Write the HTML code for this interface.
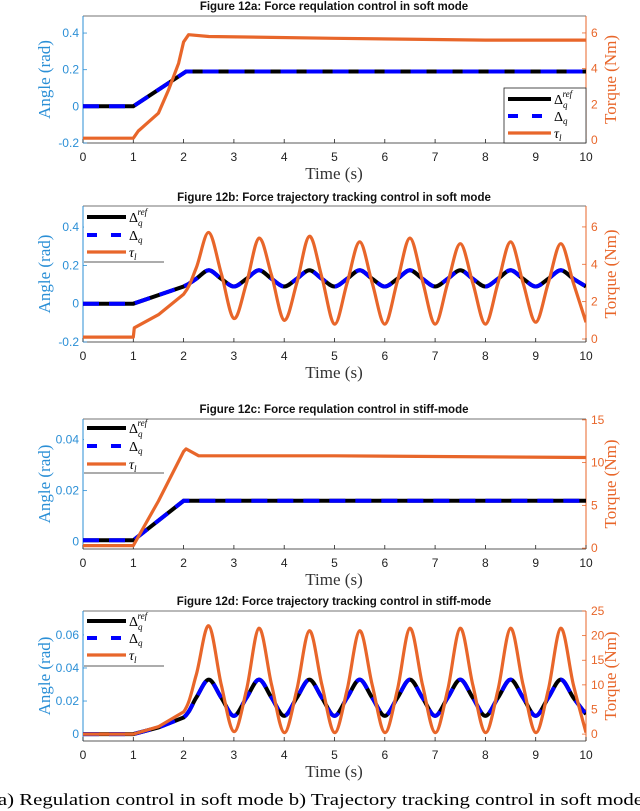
<!DOCTYPE html>
<html><head><meta charset="utf-8"><style>
html,body{margin:0;padding:0;background:#fff;}
svg{display:block;}
.tl{font-family:"Liberation Sans",sans-serif;font-size:12px;}
.ttl{font-family:"Liberation Sans",sans-serif;font-size:11.5px;font-weight:bold;fill:#111;}
.al{font-family:"Liberation Serif",serif;font-size:17px;}
.lg{font-family:"Liberation Serif",serif;font-size:14px;fill:#000;}
</style></head><body>
<svg id="fig" width="640" height="811" viewBox="0 0 640 811" xmlns="http://www.w3.org/2000/svg">
<text x="-9" y="805" class="al" textLength="652" lengthAdjust="spacingAndGlyphs">(a)  Regulation control in soft mode b) Trajectory tracking control in soft mode</text>
</svg>
<script>
// ---- Panel a data ----
const aTime = [0, 1, 2.05, 10];
const aRef = [0, 0, 0.19, 0.19];
const aTqTime = [0, 1, 1.1, 1.3, 1.5, 1.7, 1.9, 2.0, 2.1, 2.5, 5, 8, 10];
const aTorque = [0.1, 0.1, 0.5, 1.0, 1.5, 2.8, 4.3, 5.5, 5.9, 5.8, 5.7, 5.6, 5.6];
// ---- Panel b data ----
const bTime = [0,1,1.5,2,2.25,2.5,2.75,3,3.25,3.5,3.75,4,4.25,4.5,4.75,5,5.25,5.5,5.75,6,6.25,6.5,6.75,7,7.25,7.5,7.75,8,8.25,8.5,8.75,9,9.25,9.5,9.75,10];
const bRef = [0,0,0.045,0.09,0.13,0.175,0.13,0.09,0.13,0.175,0.13,0.09,0.13,0.175,0.13,0.09,0.13,0.175,0.13,0.09,0.13,0.175,0.13,0.09,0.13,0.175,0.13,0.09,0.13,0.175,0.13,0.09,0.13,0.175,0.13,0.09];
const bTqTime = [0,1,1.02,1.5,2,2.25,2.5,2.75,3,3.25,3.5,3.75,4,4.25,4.5,4.75,5,5.25,5.5,5.75,6,6.25,6.5,6.75,7,7.25,7.5,7.75,8,8.25,8.5,8.75,9,9.25,9.5,9.75,10];
const bTorque = [0.1,0.1,0.6,1.3,2.4,3.8,5.7,3.5,1.1,3.0,5.4,3.4,1.0,3.0,5.5,3.3,0.8,3.0,5.2,3.0,0.8,3.1,5.4,3.1,0.8,3.0,5.1,3.0,0.8,3.0,5.2,3.0,0.9,3.0,5.1,3.0,0.9];
// ---- Panel c data ----
const cTime = [0, 1, 2, 10];
const cRef = [0.0005, 0.0005, 0.016, 0.016];
const cTqTime = [0, 1, 1.5, 2, 2.05, 2.3, 5, 10];
const cTorque = [0.3, 0.3, 5.5, 11.3, 11.6, 10.8, 10.8, 10.6];
// ---- Panel d data ----
const dTime = bTime;
const dRef = [0,0,0.004,0.01,0.022,0.033,0.022,0.011,0.022,0.033,0.022,0.011,0.022,0.033,0.022,0.011,0.022,0.033,0.022,0.011,0.022,0.033,0.022,0.011,0.022,0.033,0.022,0.011,0.022,0.033,0.022,0.011,0.022,0.033,0.022,0.012];
const dTorque = [0,0,1.5,4.5,12,22,10,0.5,9,21.5,10,0.3,9,21,10,0.3,9,21,10,0.3,9,21.5,10,0.3,9,21.5,10,0.3,9,21.5,10,0.3,9,21.5,10,0.3];
// tick labels
const xTicks = [0,1,2,3,4,5,6,7,8,9,10];
const aAngTicks = ["-0.2","0","0.2","0.4"], aTqTicks = ["0","2","4","6"];
const bAngTicks = ["-0.2","0","0.2","0.4"], bTqTicks = ["0","2","4","6"];
const cAngTicks = ["0","0.02","0.04"], cTqTicks = ["0","5","10","15"];
const dAngTicks = ["0","0.02","0.04","0.06"], dTqTicks = ["0","5","10","15","20","25"];

const NS = "http://www.w3.org/2000/svg";
const svg = document.getElementById("fig");
const BLUE_AX = "#2b8fd6", ORANGE = "#e8662a";
function mk(tag, attrs, parent){ const e=document.createElementNS(NS,tag); for(const k in attrs) e.setAttribute(k,attrs[k]); (parent||svg).appendChild(e); return e; }

const X0 = 83, X1 = 586;
function xs(t){ return X0 + (t/10)*(X1-X0); }
function lin(d0,d1,p0,p1){ return v => p0 + (v-d0)/(d1-d0)*(p1-p0); }

function pathFrom(ts, vs, ys, smooth){
  const pts = ts.map((t,i)=>[xs(t), ys(vs[i])]);
  let d = "M"+pts[0][0].toFixed(1)+","+pts[0][1].toFixed(1);
  for(let i=0;i<pts.length-1;i++){
    const p1=pts[i], p2=pts[i+1];
    if(!smooth || ts[i] < 2){ d+="L"+p2[0].toFixed(1)+","+p2[1].toFixed(1); continue; }
    const p0=pts[Math.max(0,i-1)], p3=pts[Math.min(pts.length-1,i+2)];
    const c1=[p1[0]+(p2[0]-p0[0])/6, p1[1]+(p2[1]-p0[1])/6];
    const c2=[p2[0]-(p3[0]-p1[0])/6, p2[1]-(p3[1]-p1[1])/6];
    d+="C"+c1[0].toFixed(1)+","+c1[1].toFixed(1)+" "+c2[0].toFixed(1)+","+c2[1].toFixed(1)+" "+p2[0].toFixed(1)+","+p2[1].toFixed(1);
  }
  return d;
}

function panel(p){
  const g = mk("g",{});
  
  
  const ya = lin(p.angLo,p.angHi,p.bot,p.top);
  const yt = lin(p.tqLo,p.tqHi,p.bot,p.top);
  const title = mk("text",{x:334,y:p.titleY,"text-anchor":"middle",class:"ttl"},g);
  title.textContent = p.title;
  
  
  mk("line",{x1:X0,y1:p.top,x2:X1,y2:p.top,stroke:"#444","stroke-width":0.8},g);
  mk("line",{x1:X0,y1:p.bot,x2:X1,y2:p.bot,stroke:"#222","stroke-width":0.8},g);
  mk("line",{x1:X0,y1:p.top,x2:X0,y2:p.bot,stroke:BLUE_AX,"stroke-width":1},g);
  mk("line",{x1:X1,y1:p.top,x2:X1,y2:p.bot,stroke:ORANGE,"stroke-width":1},g);
  xTicks.forEach(t=>{
    mk("line",{x1:xs(t),y1:p.bot,x2:xs(t),y2:p.bot-4,stroke:"#222","stroke-width":0.8},g);
    const tx = mk("text",{x:xs(t),y:p.bot+18,"text-anchor":"middle",class:"tl",fill:"#222"},g);
    tx.textContent = t;
    
    
  });
  p.angTicks.forEach(s=>{
    const y = ya(parseFloat(s));
    mk("line",{x1:X0,y1:y,x2:X0+4,y2:y,stroke:BLUE_AX,"stroke-width":0.8},g);
    const tx = mk("text",{x:X0-4,y:y+4,"text-anchor":"end",class:"tl",fill:BLUE_AX},g);
    tx.textContent = s;
    
    
  });
  p.tqTicks.forEach(s=>{
    const y = yt(parseFloat(s));
    mk("line",{x1:X1,y1:y,x2:X1-4,y2:y,stroke:ORANGE,"stroke-width":0.8},g);
    const tx = mk("text",{x:X1+5,y:y+4,"text-anchor":"start",class:"tl",fill:ORANGE},g);
    tx.textContent = s;
    
    
  });
  const mid = (p.top+p.bot)/2;
  const yl = mk("text",{x:50,y:mid,"text-anchor":"middle",class:"al",fill:BLUE_AX,transform:"rotate(-90 50 "+mid+")"},g);
  yl.textContent = "Angle (rad)";
  
  
  const yr = mk("text",{x:616,y:mid,"text-anchor":"middle",class:"al",fill:ORANGE,transform:"rotate(-90 616 "+mid+")"},g);
  yr.textContent = "Torque (Nm)";
  
  
  const xl = mk("text",{x:334,y:p.bot+36,"text-anchor":"middle",class:"al",fill:"#333"},g);
  xl.textContent = "Time (s)";
  
  
  const cp = "clip-"+p.name;
  const cl = mk("clipPath",{id:cp},g); mk("rect",{x:X0,y:p.top,width:X1-X0,height:p.bot-p.top},cl);
  const dref = pathFrom(p.t, p.ref, ya, p.smooth);
  const l1 = mk("path",{d:dref,fill:"none",stroke:"#000","stroke-width":4,"clip-path":"url(#"+cp+")"},g);
  
  
  const l2 = mk("path",{d:dref,fill:"none",stroke:"#0000ff","stroke-width":4,"stroke-dasharray":"16 10","clip-path":"url(#"+cp+")"},g);
  
  
  const l3 = mk("path",{d:pathFrom(p.tqT, p.tq, yt, p.smooth),fill:"none",stroke:ORANGE,"stroke-width":3.2,"stroke-linejoin":"round","clip-path":"url(#"+cp+")"},g);
  
  
  const L = p.leg;
  const lg = mk("g",{},g);
  
  
  if(L.box) mk("rect",{x:L.x0,y:L.y0,width:L.x1-L.x0,height:L.y1-L.y0,fill:"#fff",stroke:"#222","stroke-width":0.8},lg);
  else { mk("rect",{x:L.x0,y:L.y0,width:L.x1-L.x0,height:L.y1-L.y0,fill:"#fff"},lg); mk("line",{x1:L.x0,y1:L.y1,x2:L.x1,y2:L.y1,stroke:"#222","stroke-width":0.8},lg); }
  const items = [["#000","",4,"ref"],["#0000ff","10 14",4,"q"],[ORANGE,"",3.2,"tau"]];
  items.forEach((it,i)=>{
    const y = L.ys[i];
    const ln = mk("line",{x1:L.sx0,y1:y,x2:L.sx1,y2:y,stroke:it[0],"stroke-width":it[2],"stroke-dasharray":it[1]},lg);
    
    
    const tx = mk("text",{x:L.sx1+3,y:y+5,class:"lg"},lg);
    
    
    if(it[3]==="ref"){ tx.innerHTML = 'Δ<tspan font-size="9" font-style="italic" dy="4">q</tspan><tspan font-size="9" font-style="italic" dx="-5" dy="-11">ref</tspan>'; }
    else if(it[3]==="q"){ tx.innerHTML = 'Δ<tspan font-size="9" font-style="italic" dy="3">q</tspan>'; }
    else { tx.innerHTML = '<tspan font-style="italic">τ</tspan><tspan font-size="9" font-style="italic" dy="3">l</tspan>'; }
  });
}

panel({name:"panel-12a",title:"Figure 12a: Force requlation control in soft mode",titleY:10,top:16,bot:143,
  angLo:-0.2,angHi:0.493,tqLo:-0.17,tqHi:6.95,angTicks:aAngTicks,tqTicks:aTqTicks,
  t:aTime,ref:aRef,tqT:aTqTime,tq:aTorque,smooth:false,
  leg:{box:true,x0:504,y0:88,x1:586,y1:143,sx0:508,sx1:551,ys:[99,116,133]}});
panel({name:"panel-12b",title:"Figure 12b: Force trajectory tracking control in soft mode",titleY:201,top:206,bot:342,
  angLo:-0.2,angHi:0.51,tqLo:-0.16,tqHi:7.12,angTicks:bAngTicks,tqTicks:bTqTicks,
  t:bTime,ref:bRef,tqT:bTqTime,tq:bTorque,smooth:true,
  leg:{box:false,x0:84,y0:207,x1:164,y1:262,sx0:87,sx1:126,ys:[217,235,252]}});
panel({name:"panel-12c",title:"Figure 12c: Force requlation control in stiff-mode",titleY:413,top:419,bot:549,
  angLo:-0.0029,angHi:0.0481,tqLo:-0.1,tqHi:15.1,angTicks:cAngTicks,tqTicks:cTqTicks,
  t:cTime,ref:cRef,tqT:cTqTime,tq:cTorque,smooth:false,
  leg:{box:false,x0:84,y0:420,x1:164,y1:473,sx0:87,sx1:126,ys:[428,446,464]}});
panel({name:"panel-12d",title:"Figure 12d: Force trajectory tracking control in stiff-mode",titleY:605,top:611,bot:741,
  angLo:-0.0042,angHi:0.0745,tqLo:-1.4,tqHi:25,angTicks:dAngTicks,tqTicks:dTqTicks,
  t:dTime,ref:dRef,tqT:dTime,tq:dTorque,smooth:true,
  leg:{box:false,x0:84,y0:612,x1:164,y1:666,sx0:87,sx1:126,ys:[621,638,655]}});
</script>
</body></html>
